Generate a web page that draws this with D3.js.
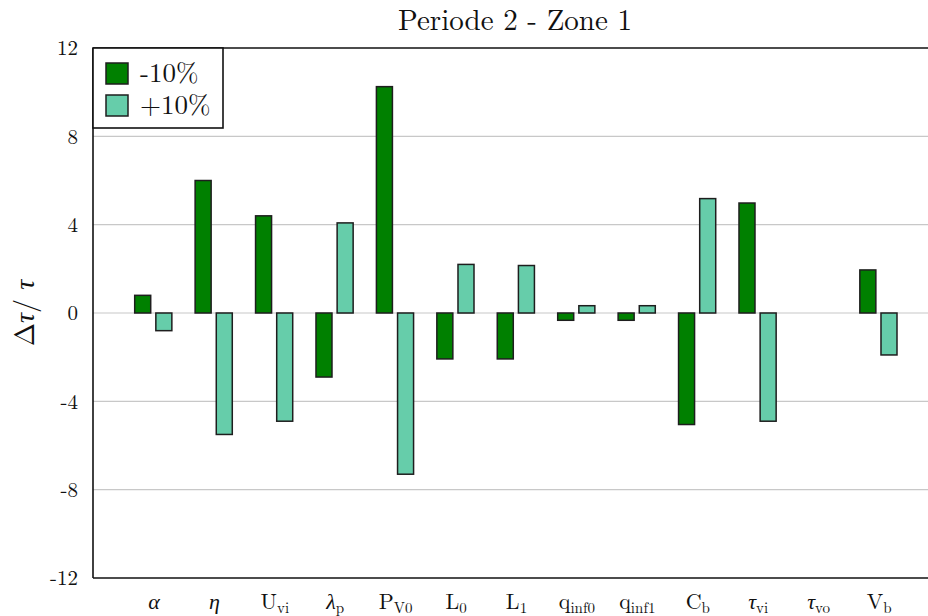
<!DOCTYPE html>
<html>
<head>
<meta charset="utf-8">
<script src="https://cdn.jsdelivr.net/npm/d3@7"></script>
<style>
  body { margin: 0; background: #fff; }
</style>
</head>
<body>
<svg id="chart"></svg>
<script>
// parameter names, subscripts and which ones are greek (italic math)
const paramNames = ['α', 'η', 'U', 'λ', 'P', 'L', 'L', 'q', 'q', 'C', 'τ', 'τ', 'V'];
const paramSubs = ['', '', 'vi', 'p', 'V0', '0', '1', 'inf0', 'inf1', 'b', 'vi', 'vo', 'b'];
const paramItalic = [true, true, false, true, false, false, false, false, false, false, true, true, false];

// relative change of tau for -10% and +10% of each parameter
const minus10 = [0.8, 6.0, 4.4, -2.9, 10.25, -2.08, -2.08, -0.33, -0.33, -5.05, 4.98, 0, 1.95];
const plus10 = [-0.8, -5.5, -4.9, 4.08, -7.3, 2.2, 2.15, 0.33, 0.33, 5.18, -4.9, 0, -1.9];

const yTicks = [-12, -8, -4, 0, 4, 8, 12];
const seriesNames = ['-10%', '+10%'];
const colors = ['#008000', '#66cdaa'];

const FONT = '"Latin Modern Roman", "Liberation Serif", serif';

const width = 928;
const height = 616;
const margin = { top: 48, right: -11, bottom: 38, left: 93 };

const svg = d3.select('#chart')
  .attr('width', width)
  .attr('height', height)
  .style('font-family', FONT);

//Scales
const xScale = d3.scaleLinear()
  .domain([0, paramNames.length + 1])
  .range([margin.left, width - margin.right]);

const yScale = d3.scaleLinear()
  .domain([-12, 12])
  .range([height - margin.bottom, margin.top]);

const barW = 0.265;
const offsets = [-0.31, 0.04];

//Gridlines
svg.append('g')
  .selectAll('line')
  .data(yTicks.filter(d => d !== 12 && d !== -12))
  .join('line')
  .attr('x1', margin.left)
  .attr('x2', width)
  .attr('y1', d => yScale(d))
  .attr('y2', d => yScale(d))
  .attr('stroke', '#c8c8c8')
  .attr('stroke-width', 1.2);

//Bars
[minus10, plus10].forEach((vals, s) => {
  svg.append('g')
    .selectAll('rect')
    .data(vals)
    .join('rect')
    .attr('x', (d, i) => xScale(i + 1 + offsets[s]))
    .attr('width', xScale(barW) - xScale(0))
    .attr('y', d => yScale(Math.max(0, d)))
    .attr('height', d => Math.abs(yScale(d) - yScale(0)))
    .attr('fill', colors[s])
    .attr('stroke', '#1e1e1e')
    .attr('stroke-width', 1.5)
    .style('display', d => d === 0 ? 'none' : null);
});

//Frame lines (left, top, bottom)
const frame = svg.append('g').attr('stroke', '#111').attr('stroke-width', 1.6);
frame.append('line')
  .attr('x1', margin.left).attr('x2', margin.left)
  .attr('y1', yScale(12)).attr('y2', yScale(-12));
frame.append('line')
  .attr('x1', margin.left).attr('x2', width)
  .attr('y1', yScale(12)).attr('y2', yScale(12));
frame.append('line')
  .attr('x1', margin.left).attr('x2', width)
  .attr('y1', yScale(-12)).attr('y2', yScale(-12));

//Y axis
const yAxis = d3.axisLeft(yScale)
  .tickValues(yTicks)
  .tickSize(0)
  .tickPadding(15)
  .tickFormat(d => String(d));

svg.append('g')
  .attr('transform', `translate(${margin.left},0)`)
  .call(yAxis)
  .call(g => g.select('.domain').remove())
  .selectAll('text')
  .style('font-family', FONT)
  .style('font-size', '21px')
  .attr('fill', '#111');

//X axis labels with subscripts
const xAxis = d3.axisBottom(xScale)
  .tickValues(d3.range(1, paramNames.length + 1))
  .tickSize(0)
  .tickFormat('');

const xg = svg.append('g')
  .attr('transform', `translate(0,${yScale(-12)})`)
  .call(xAxis)
  .call(g => g.select('.domain').remove());

xg.selectAll('.tick').each(function (d) {
  const i = d - 1;
  const t = d3.select(this).append('text')
    .attr('y', 31)
    .attr('text-anchor', 'middle')
    .style('font-family', FONT)
    .style('font-size', '22px')
    .attr('fill', '#111');
  t.append('tspan')
    .style('font-style', paramItalic[i] ? 'italic' : null)
    .text(paramNames[i]);
  if (paramSubs[i]) {
    t.append('tspan')
      .style('font-size', '15px')
      .attr('dy', 4)
      .text(paramSubs[i]);
  }
});

//Title
svg.append('text')
  .attr('x', 515)
  .attr('y', 30)
  .attr('text-anchor', 'middle')
  .style('font-family', FONT)
  .style('font-size', '29px')
  .attr('fill', '#111')
  .text('Periode 2 - Zone 1');

//Y label
const yl = svg.append('text')
  .attr('transform', `translate(34,${yScale(0)}) rotate(-90)`)
  .attr('text-anchor', 'middle')
  .style('font-family', FONT)
  .style('font-size', '28px')
  .attr('fill', '#111');
yl.append('tspan').text('Δ');
yl.append('tspan').style('font-style', 'italic').text('τ');
yl.append('tspan').text('/ ');
yl.append('tspan').style('font-style', 'italic').text('τ');

//Legend
const legend = svg.append('g').attr('transform', `translate(${margin.left},${margin.top})`);
legend.append('rect')
  .attr('width', 130)
  .attr('height', 80)
  .attr('fill', '#fff')
  .attr('stroke', '#111')
  .attr('stroke-width', 1.6);

seriesNames.forEach((name, s) => {
  legend.append('rect')
    .attr('x', 13)
    .attr('y', 15 + s * 32)
    .attr('width', 22)
    .attr('height', 21)
    .attr('fill', colors[s])
    .attr('stroke', '#1e1e1e')
    .attr('stroke-width', 1.5);
  legend.append('text')
    .attr('x', 47)
    .attr('y', 34 + s * 32)
    .style('font-family', FONT)
    .style('font-size', '27px')
    .attr('fill', '#111')
    .text(name);
});
</script>
</body>
</html>
